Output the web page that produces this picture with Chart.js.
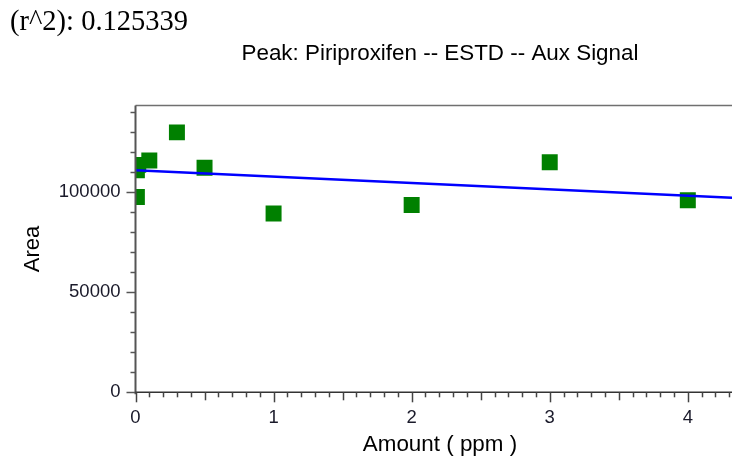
<!DOCTYPE html>
<html>
<head>
<meta charset="utf-8">
<script src="https://cdn.jsdelivr.net/npm/chart.js@4"></script>
<style>
    body { margin: 0; background: #ffffff; }
    canvas { display: block; }
</style>
</head>
<body>
<canvas id="calChart" width="732" height="459"></canvas>
<script>
// Calibration levels and measured peak areas
const amounts = [0.01, 0.01, 0.02, 0.1, 0.3, 0.5, 1, 2, 3, 4];
const areas = [97400, 110700, 113400, 115600, 129600, 112000, 89200, 93400, 114700, 95700];

// Fitted calibration line end points
const fitAmounts = [0, 4.32];
const fitAreas = [110700, 97040];

// Axis ranges and tick steps
const xMax = 4.32;
const yMax = 143000;
const xMinorStep = 0.1;
const yMinorStep = 10000;
const yLabelStep = 50000;

const rSquaredText = '(r^2): 0.125339';
const peakTitle = 'Peak: Piriproxifen -- ESTD -- Aux Signal';
const xTitle = 'Amount ( ppm )';

const sansFont = '"Liberation Sans", Arial, sans-serif';

function stepTicks(max, step) {
    const ticks = [];
    const n = Math.floor(max / step + 1e-9);
    for (let i = 0; i <= n; i++) {
        ticks.push({ value: Math.round(i * step * 1000) / 1000 });
    }
    return ticks;
}

// Frame, tick marks and header texts
const framePlugin = {
    id: 'frame',
    afterDraw(chart) {
        const ctx = chart.ctx;
        const area = chart.chartArea;
        const xs = chart.scales.x;
        const ys = chart.scales.y;
        // the plot continues past the right edge, so titles sit a bit right of the visible middle
        const midX = xs.getPixelForValue(2.205);

        ctx.save();

        // top border
        ctx.strokeStyle = '#707070';
        ctx.lineWidth = 1.5;
        ctx.beginPath();
        ctx.moveTo(area.left, area.top);
        ctx.lineTo(area.right, area.top);
        ctx.stroke();

        // y axis + ticks
        ctx.strokeStyle = '#555555';
        ctx.lineWidth = 2;
        ctx.beginPath();
        ctx.moveTo(area.left, area.top);
        ctx.lineTo(area.left, area.bottom + 2);
        ctx.stroke();

        ctx.lineWidth = 1.5;
        ys.ticks.forEach(t => {
            const y = Math.round(ys.getPixelForValue(t.value)) + 0.5;
            const len = t.value % yLabelStep === 0 ? 9 : 5;
            ctx.beginPath();
            ctx.moveTo(area.left - len, y);
            ctx.lineTo(area.left, y);
            ctx.stroke();
        });

        // x axis + ticks
        ctx.strokeStyle = '#333333';
        ctx.lineWidth = 1.5;
        ctx.beginPath();
        ctx.moveTo(area.left, area.bottom);
        ctx.lineTo(area.right, area.bottom);
        ctx.stroke();

        ctx.strokeStyle = '#444444';
        xs.ticks.forEach(t => {
            const tenths = Math.round(t.value * 10);
            const x = Math.round(xs.getPixelForValue(t.value)) + 0.5;
            let len = 5;
            if (tenths % 10 === 0) len = 10;
            else if (tenths % 5 === 0) len = 8;
            ctx.beginPath();
            ctx.moveTo(x, area.bottom);
            ctx.lineTo(x, area.bottom + len);
            ctx.stroke();
        });

        // header texts
        ctx.fillStyle = '#000000';
        ctx.textBaseline = 'alphabetic';
        ctx.textAlign = 'left';
        ctx.font = '28.5px "Liberation Serif", "Times New Roman", serif';
        ctx.fillText(rSquaredText, 10, 30);

        ctx.textAlign = 'center';
        ctx.font = '22.4px ' + sansFont;
        ctx.fillText(peakTitle, midX, 60);

        // x axis title
        ctx.fillText(xTitle, midX, 451);

        ctx.restore();
    }
};

const pointData = amounts.map((a, i) => ({ x: a, y: areas[i] }));
const fitData = fitAmounts.map((a, i) => ({ x: a, y: fitAreas[i] }));

new Chart(document.getElementById('calChart'), {
    type: 'scatter',
    data: {
        datasets: [
            {
                label: 'Fit',
                data: fitData,
                showLine: true,
                borderColor: '#0000ff',
                borderWidth: 2.5,
                pointRadius: 0,
                order: 0
            },
            {
                label: 'Levels',
                data: pointData,
                pointStyle: 'rect',
                pointRadius: 11.3,
                backgroundColor: '#008000',
                borderColor: '#008000',
                borderWidth: 0,
                order: 1
            }
        ]
    },
    options: {
        responsive: false,
        devicePixelRatio: 1,
        animation: false,
        layout: {
            autoPadding: false,
            padding: { left: 0, right: 0, top: 105.5, bottom: 0 }
        },
        plugins: {
            legend: { display: false },
            tooltip: { enabled: false }
        },
        scales: {
            x: {
                type: 'linear',
                min: 0,
                max: xMax,
                grid: { display: false },
                border: { display: false },
                ticks: {
                    autoSkip: false,
                    maxRotation: 0,
                    minRotation: 0,
                    padding: 7,
                    color: '#1a1a2a',
                    font: { family: sansFont, size: 18.5 },
                    callback: v => (Math.abs(v - Math.round(v)) < 1e-6 ? String(Math.round(v)) : '')
                },
                afterBuildTicks: scale => { scale.ticks = stepTicks(xMax, xMinorStep); },
                afterFit: scale => {
                    scale.height = 66.7;
                    scale.paddingLeft = 0;
                    scale.paddingRight = 0;
                }
            },
            y: {
                type: 'linear',
                min: 0,
                max: yMax,
                grid: { display: false },
                border: { display: false },
                ticks: {
                    autoSkip: false,
                    padding: 7,
                    color: '#1a1a2a',
                    font: { family: sansFont, size: 18.5 },
                    callback: v => (v % yLabelStep === 0 ? String(v) : '')
                },
                afterBuildTicks: scale => { scale.ticks = stepTicks(yMax, yMinorStep); },
                title: {
                    display: true,
                    text: 'Area',
                    color: '#000000',
                    font: { family: sansFont, size: 22 },
                    padding: { top: 20, bottom: 0 }
                },
                afterFit: scale => {
                    scale.width = 135.5;
                    scale.paddingTop = 0;
                    scale.paddingBottom = 0;
                }
            }
        }
    },
    plugins: [framePlugin]
});
</script>
</body>
</html>
